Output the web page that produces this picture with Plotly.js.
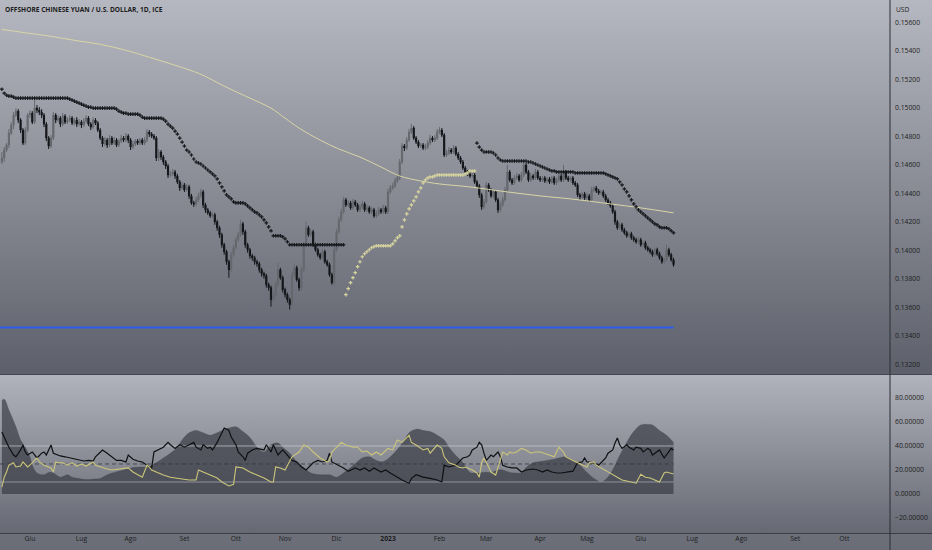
<!DOCTYPE html>
<html><head><meta charset="utf-8">
<script src="https://cdn.plot.ly/plotly-3.0.1.min.js"></script>
<style>
html,body{margin:0;padding:0;background:#6c6f79;}
#chart{width:932px;height:550px;background:linear-gradient(to bottom,#b6b8c1 0px,#5d606a 374px,#454852 374px,#454852 375px,#b1b3bc 375px,#666973 533px,#3b3e47 533px,#3b3e47 534px,#6d7079 534px,#6a6d77 550px);}
</style></head><body><div id="chart"></div>
<script>
// ---- price bars (daily, weekdays from 2022-05-16) ----
const openP = [0.14620,0.14648,0.14704,0.14739,0.14823,0.14879,0.14949,0.14977,0.14914,0.14844,0.14753,0.14844,
0.14949,0.14963,0.14900,0.14998,0.14984,0.14970,0.14949,0.14886,0.14788,0.14732,
0.14788,0.14949,0.14914,0.14928,0.14886,0.14942,0.14900,0.14914,0.14928,0.14893,
0.14914,0.14886,0.14900,0.14879,0.14907,0.14928,0.14886,0.14865,0.14914,0.14893,
0.14844,0.14788,0.14746,0.14774,0.14739,0.14788,0.14753,0.14774,0.14739,0.14767,
0.14788,0.14774,0.14802,0.14774,0.14725,0.14746,0.14767,0.14753,0.14774,0.14753,
0.14774,0.14830,0.14816,0.14802,0.14788,0.14648,0.14690,0.14655,0.14620,0.14592,
0.14529,0.14536,0.14550,0.14522,0.14480,0.14438,0.14459,0.14424,0.14445,0.14382,
0.14333,0.14326,0.14354,0.14382,0.14410,0.14319,0.14284,0.14263,0.14242,0.14249,
0.14200,0.14158,0.14109,0.14039,0.13990,0.13920,0.13864,0.13969,0.14018,0.14074,
0.14109,0.14186,0.14130,0.14039,0.14004,0.13962,0.13948,0.13920,0.13906,0.13864,
0.13836,0.13822,0.13759,0.13738,0.13654,0.13689,0.13759,0.13864,0.13808,0.13724,
0.13689,0.13654,0.13619,0.13829,0.13878,0.13794,0.13738,0.13864,0.14039,0.14158,
0.14109,0.14130,0.14039,0.14004,0.13969,0.13948,0.13990,0.13920,0.13899,0.13829,
0.13773,0.14004,0.14130,0.14214,0.14270,0.14354,0.14319,0.14333,0.14298,0.14340,
0.14319,0.14284,0.14305,0.14326,0.14284,0.14298,0.14270,0.14284,0.14242,0.14256,
0.14284,0.14270,0.14298,0.14270,0.14410,0.14438,0.14452,0.14487,0.14508,0.14620,
0.14732,0.14718,0.14774,0.14830,0.14858,0.14788,0.14760,0.14732,0.14739,0.14718,
0.14725,0.14753,0.14788,0.14774,0.14788,0.14830,0.14844,0.14809,0.14669,0.14683,
0.14704,0.14690,0.14718,0.14676,0.14648,0.14620,0.14578,0.14550,0.14536,0.14522,
0.14529,0.14480,0.14452,0.14389,0.14305,0.14340,0.14459,0.14424,0.14382,0.14410,
0.14354,0.14284,0.14319,0.14354,0.14424,0.14550,0.14494,0.14473,0.14508,0.14522,
0.14494,0.14529,0.14599,0.14550,0.14494,0.14522,0.14508,0.14550,0.14508,0.14494,
0.14508,0.14487,0.14501,0.14480,0.14508,0.14473,0.14494,0.14522,0.14494,0.14550,
0.14508,0.14494,0.14508,0.14473,0.14459,0.14389,0.14375,0.14396,0.14368,0.14382,
0.14354,0.14424,0.14438,0.14417,0.14403,0.14410,0.14382,0.14354,0.14333,0.14312,
0.14270,0.14200,0.14158,0.14179,0.14144,0.14123,0.14102,0.14116,0.14088,0.14074,
0.14060,0.14074,0.14039,0.14053,0.14018,0.14004,0.13990,0.13969,0.14004,0.13976,
0.13948,0.13920,0.13934,0.14004,0.13969,0.13934];
const highP = [0.14690,0.14725,0.14753,0.14851,0.14900,0.14970,0.14998,0.14991,0.14928,0.14858,0.14865,0.14963,
0.14984,0.14977,0.15061,0.15019,0.15005,0.14991,0.14963,0.14900,0.14802,0.14809,
0.14970,0.14963,0.14949,0.14942,0.14963,0.14956,0.14935,0.14949,0.14942,0.14928,
0.14935,0.14921,0.14914,0.14928,0.14949,0.14942,0.14900,0.14935,0.14928,0.14907,
0.14858,0.14802,0.14795,0.14788,0.14809,0.14802,0.14795,0.14788,0.14781,0.14809,
0.14802,0.14823,0.14816,0.14788,0.14767,0.14781,0.14781,0.14788,0.14788,0.14795,
0.14851,0.14844,0.14830,0.14816,0.14802,0.14711,0.14704,0.14669,0.14634,0.14606,
0.14557,0.14571,0.14564,0.14536,0.14494,0.14480,0.14473,0.14466,0.14459,0.14396,
0.14347,0.14375,0.14403,0.14431,0.14424,0.14333,0.14298,0.14277,0.14270,0.14263,
0.14214,0.14172,0.14123,0.14053,0.14004,0.13934,0.13990,0.14039,0.14095,0.14130,
0.14214,0.14200,0.14144,0.14053,0.14018,0.13976,0.13962,0.13934,0.13920,0.13878,
0.13850,0.13836,0.13773,0.13752,0.13710,0.13780,0.13913,0.13878,0.13822,0.13738,
0.13703,0.13668,0.13850,0.13899,0.13892,0.13808,0.13885,0.14060,0.14200,0.14172,
0.14151,0.14144,0.14053,0.14018,0.13983,0.14011,0.14004,0.13934,0.13913,0.13843,
0.14025,0.14151,0.14235,0.14291,0.14375,0.14368,0.14354,0.14347,0.14361,0.14354,
0.14333,0.14326,0.14347,0.14340,0.14319,0.14312,0.14305,0.14298,0.14277,0.14305,
0.14298,0.14319,0.14312,0.14431,0.14459,0.14473,0.14508,0.14529,0.14641,0.14753,
0.14746,0.14795,0.14851,0.14886,0.14872,0.14802,0.14774,0.14753,0.14753,0.14746,
0.14774,0.14809,0.14802,0.14809,0.14851,0.14865,0.14858,0.14823,0.14704,0.14725,
0.14718,0.14739,0.14732,0.14690,0.14662,0.14634,0.14592,0.14564,0.14550,0.14543,
0.14543,0.14494,0.14466,0.14403,0.14361,0.14480,0.14473,0.14438,0.14431,0.14424,
0.14368,0.14340,0.14375,0.14445,0.14599,0.14564,0.14508,0.14529,0.14543,0.14536,
0.14550,0.14634,0.14613,0.14564,0.14543,0.14536,0.14571,0.14564,0.14522,0.14522,
0.14522,0.14515,0.14515,0.14522,0.14522,0.14508,0.14543,0.14536,0.14599,0.14564,
0.14522,0.14522,0.14522,0.14487,0.14473,0.14403,0.14410,0.14410,0.14403,0.14396,
0.14445,0.14452,0.14452,0.14431,0.14424,0.14424,0.14396,0.14368,0.14347,0.14326,
0.14284,0.14214,0.14193,0.14193,0.14158,0.14137,0.14130,0.14130,0.14102,0.14088,
0.14095,0.14088,0.14067,0.14067,0.14032,0.14018,0.14004,0.14018,0.14018,0.13990,
0.13962,0.13948,0.14039,0.14018,0.13983,0.13948];
const lowP = [0.14606,0.14620,0.14690,0.14718,0.14809,0.14851,0.14935,0.14893,0.14823,0.14739,0.14739,0.14830,
0.14928,0.14886,0.14886,0.14963,0.14949,0.14928,0.14865,0.14767,0.14711,0.14718,
0.14774,0.14893,0.14900,0.14865,0.14872,0.14886,0.14886,0.14900,0.14879,0.14879,
0.14865,0.14872,0.14858,0.14865,0.14893,0.14872,0.14844,0.14851,0.14879,0.14830,
0.14774,0.14725,0.14732,0.14718,0.14725,0.14739,0.14739,0.14725,0.14725,0.14753,
0.14760,0.14760,0.14753,0.14704,0.14711,0.14732,0.14739,0.14739,0.14739,0.14739,
0.14760,0.14795,0.14788,0.14774,0.14627,0.14627,0.14634,0.14599,0.14571,0.14508,
0.14515,0.14522,0.14501,0.14466,0.14417,0.14424,0.14410,0.14410,0.14361,0.14319,
0.14305,0.14312,0.14340,0.14368,0.14298,0.14263,0.14249,0.14228,0.14228,0.14179,
0.14137,0.14088,0.14018,0.13969,0.13899,0.13808,0.13850,0.13955,0.14004,0.14060,
0.14095,0.14109,0.14018,0.13983,0.13941,0.13927,0.13899,0.13885,0.13843,0.13815,
0.13801,0.13738,0.13717,0.13605,0.13640,0.13675,0.13745,0.13794,0.13703,0.13668,
0.13633,0.13584,0.13605,0.13815,0.13780,0.13717,0.13724,0.13850,0.14025,0.14095,
0.14095,0.14025,0.13990,0.13955,0.13934,0.13934,0.13906,0.13885,0.13815,0.13759,
0.13759,0.13990,0.14116,0.14200,0.14256,0.14305,0.14305,0.14284,0.14284,0.14305,
0.14270,0.14270,0.14291,0.14270,0.14270,0.14256,0.14256,0.14228,0.14228,0.14242,
0.14256,0.14256,0.14256,0.14256,0.14396,0.14424,0.14438,0.14473,0.14494,0.14606,
0.14697,0.14704,0.14760,0.14816,0.14774,0.14746,0.14718,0.14718,0.14704,0.14704,
0.14711,0.14739,0.14760,0.14760,0.14774,0.14816,0.14795,0.14655,0.14655,0.14669,
0.14676,0.14676,0.14662,0.14634,0.14606,0.14564,0.14536,0.14522,0.14508,0.14508,
0.14466,0.14438,0.14368,0.14284,0.14291,0.14326,0.14410,0.14368,0.14368,0.14340,
0.14263,0.14270,0.14305,0.14340,0.14410,0.14480,0.14459,0.14459,0.14494,0.14480,
0.14480,0.14515,0.14536,0.14480,0.14480,0.14494,0.14494,0.14494,0.14480,0.14480,
0.14473,0.14473,0.14466,0.14466,0.14459,0.14459,0.14480,0.14480,0.14480,0.14494,
0.14480,0.14480,0.14459,0.14445,0.14375,0.14354,0.14361,0.14354,0.14354,0.14340,
0.14340,0.14410,0.14403,0.14389,0.14389,0.14368,0.14340,0.14319,0.14298,0.14256,
0.14179,0.14144,0.14144,0.14130,0.14109,0.14088,0.14088,0.14074,0.14060,0.14046,
0.14046,0.14025,0.14025,0.14004,0.13990,0.13976,0.13955,0.13955,0.13962,0.13934,
0.13906,0.13906,0.13920,0.13955,0.13920,0.13885];
const closeP = [0.14648,0.14704,0.14739,0.14823,0.14879,0.14949,0.14977,0.14914,0.14844,0.14753,0.14844,0.14949,
0.14963,0.14900,0.14998,0.14984,0.14970,0.14949,0.14886,0.14788,0.14732,0.14788,
0.14949,0.14914,0.14928,0.14886,0.14942,0.14900,0.14914,0.14928,0.14893,0.14914,
0.14886,0.14900,0.14879,0.14907,0.14928,0.14886,0.14865,0.14914,0.14893,0.14844,
0.14788,0.14746,0.14774,0.14739,0.14788,0.14753,0.14774,0.14739,0.14767,0.14788,
0.14774,0.14802,0.14774,0.14725,0.14746,0.14767,0.14753,0.14774,0.14753,0.14774,
0.14830,0.14816,0.14802,0.14788,0.14648,0.14690,0.14655,0.14620,0.14592,0.14529,
0.14536,0.14550,0.14522,0.14480,0.14438,0.14459,0.14424,0.14445,0.14382,0.14333,
0.14326,0.14354,0.14382,0.14410,0.14319,0.14284,0.14263,0.14242,0.14249,0.14200,
0.14158,0.14109,0.14039,0.13990,0.13920,0.13864,0.13969,0.14018,0.14074,0.14109,
0.14186,0.14130,0.14039,0.14004,0.13962,0.13948,0.13920,0.13906,0.13864,0.13836,
0.13822,0.13759,0.13738,0.13654,0.13689,0.13759,0.13864,0.13808,0.13724,0.13689,
0.13654,0.13619,0.13829,0.13878,0.13794,0.13738,0.13864,0.14039,0.14158,0.14109,
0.14130,0.14039,0.14004,0.13969,0.13948,0.13990,0.13920,0.13899,0.13829,0.13773,
0.14004,0.14130,0.14214,0.14270,0.14354,0.14319,0.14333,0.14298,0.14340,0.14319,
0.14284,0.14305,0.14326,0.14284,0.14298,0.14270,0.14284,0.14242,0.14256,0.14284,
0.14270,0.14298,0.14270,0.14410,0.14438,0.14452,0.14487,0.14508,0.14620,0.14732,
0.14718,0.14774,0.14830,0.14858,0.14788,0.14760,0.14732,0.14739,0.14718,0.14725,
0.14753,0.14788,0.14774,0.14788,0.14830,0.14844,0.14809,0.14669,0.14683,0.14704,
0.14690,0.14718,0.14676,0.14648,0.14620,0.14578,0.14550,0.14536,0.14522,0.14529,
0.14480,0.14452,0.14389,0.14305,0.14340,0.14459,0.14424,0.14382,0.14410,0.14354,
0.14284,0.14319,0.14354,0.14424,0.14550,0.14494,0.14473,0.14508,0.14522,0.14494,
0.14529,0.14599,0.14550,0.14494,0.14522,0.14508,0.14550,0.14508,0.14494,0.14508,
0.14487,0.14501,0.14480,0.14508,0.14473,0.14494,0.14522,0.14494,0.14550,0.14508,
0.14494,0.14508,0.14473,0.14459,0.14389,0.14375,0.14396,0.14368,0.14382,0.14354,
0.14424,0.14438,0.14417,0.14403,0.14410,0.14382,0.14354,0.14333,0.14312,0.14270,
0.14200,0.14158,0.14179,0.14144,0.14123,0.14102,0.14116,0.14088,0.14074,0.14060,
0.14074,0.14039,0.14053,0.14018,0.14004,0.13990,0.13969,0.14004,0.13976,0.13948,
0.13920,0.13934,0.14004,0.13969,0.13934,0.13899];

// ---- trailing stop dots (bar number = position in the price arrays) ----
const stopUpperAStart = 0;
const stopUpperA = [0.15131,0.15103,0.15089,0.15082,0.15082,0.15075,0.15068,
0.15068,0.15068,0.15068,0.15068,0.15068,0.15068,0.15068,0.15068,0.15068,0.15068,0.15068,
0.15068,0.15068,0.15068,0.15068,0.15068,0.15068,0.15068,0.15068,0.15068,0.15068,0.15068,
0.15061,0.15054,0.15047,0.15040,0.15033,0.15026,0.15019,0.15012,0.15005,0.15005,
0.14998,0.14998,0.14998,0.14998,0.14998,0.14998,0.14998,0.14998,0.14998,0.14998,
0.14991,0.14977,0.14970,0.14963,0.14963,
0.14956,0.14956,0.14956,0.14956,0.14956,
0.14949,0.14935,
0.14928,0.14928,0.14928,0.14928,0.14928,0.14928,0.14928,0.14928,
0.14921,0.14907,0.14886,0.14872,0.14858,0.14837,0.14816,0.14788,0.14760,0.14732,
0.14704,0.14690,0.14669,0.14641,0.14620,0.14613,0.14606,0.14592,0.14578,0.14564,
0.14550,0.14536,0.14522,0.14501,0.14473,0.14445,0.14417,0.14389,0.14375,0.14361,0.14340,
0.14333,0.14333,0.14333,0.14333,
0.14326,0.14312,0.14298,0.14284,0.14270,0.14263,0.14249,0.14235,0.14214,0.14193,0.14165,0.14137,
0.14102,0.14102,0.14102,0.14102,
0.14095,0.14081,0.14060,0.14039,
0.14039,0.14039,0.14039,0.14039,0.14039,0.14039,0.14039,0.14039,0.14039,0.14039,0.14039,0.14039,
0.14039,0.14039,0.14039,0.14039,0.14039,0.14039,0.14039,0.14039,0.14039,0.14039,0.14039];
const stopLowerStart = 147;
const stopLower = [0.13689,0.13731,0.13773,0.13808,0.13843,0.13885,0.13920,0.13955,0.13976,0.13990,0.14004,0.14018,0.14025,
0.14032,0.14032,0.14032,0.14032,0.14032,0.14032,0.14032,
0.14046,0.14067,0.14088,0.14102,0.14165,0.14214,0.14256,0.14291,0.14319,0.14347,0.14375,0.14410,0.14438,0.14473,0.14494,0.14508,0.14515,0.14515,0.14522,
0.14529,0.14529,0.14529,0.14529,0.14529,0.14529,0.14529,0.14529,0.14529,0.14529,0.14529,0.14529,
0.14536,0.14543,0.14557,0.14557,0.14557];
const stopUpperBStart = 203;
const stopUpperB = [0.14753,0.14725,0.14704,
0.14690,0.14690,0.14690,0.14690,
0.14683,0.14669,0.14648,0.14634,
0.14627,0.14627,0.14627,0.14627,0.14627,0.14627,0.14627,0.14627,0.14627,0.14627,0.14627,
0.14620,0.14620,0.14613,0.14606,0.14599,0.14592,0.14585,0.14578,0.14571,0.14564,0.14557,0.14557,
0.14550,0.14550,0.14550,0.14550,0.14550,0.14550,0.14550,0.14550,
0.14543,0.14543,0.14543,0.14543,0.14543,0.14543,0.14543,0.14543,0.14543,0.14543,0.14543,0.14543,0.14543,
0.14536,0.14529,0.14522,0.14515,0.14508,0.14501,0.14480,0.14459,0.14431,0.14410,0.14382,0.14354,0.14326,0.14305,0.14284,
0.14270,0.14256,0.14242,0.14228,0.14214,0.14200,0.14186,0.14179,0.14165,0.14158,0.14158,0.14158,0.14151,0.14137,0.14123];

// ---- long moving average (sampled; bar offsets relative to 2022-06-01) ----
const smaBar = [-12,-2,9,19,30,41,51,62,73,83,94,103,109,115,124,132,141,150,158,167,175,188,204,218,231,248,261,275];
const smaVal = [0.15551,0.15527,0.15502,0.15474,0.15446,0.15404,0.15355,0.15299,0.15236,0.15152,0.15068,0.14998,0.14928,0.14858,0.14774,0.14711,0.14655,0.14585,0.14522,0.14487,0.14466,0.14445,0.14410,0.14382,0.14361,0.14326,0.14298,0.14263];

const supportLevel = 0.13458;

// ---- lower pane (bar offsets relative to 2022-06-01) ----
const adxBar = [-12,-11,-9,-6,-4,-2,0,1,3,6,8,10,13,16,18,21,24,27,30,33,36,40,44,48,51,54,57,60,63,65,68,71,74,77,80,82,85,88,91,94,97,100,103,106,108,111,114,117,120,124,128,131,134,137,140,142,145,148,151,154,157,160,162,165,168,171,174,177,179,182,185,188,191,194,197,200,202,205,208,210,212,215,218,221,224,226,229,232,235,238,241,244,246,249,252,255,258,261,264,266,269,272,275];
const adxVal = [78,79,70,56,45,39,31,24,17.5,16,18,17.5,14,16,14,13,12,12.5,13,16,18,20,22,22.5,23,26,30,34,39,45,51,53,51,49,51,53,55,56,52,47,39,35,41,42.5,39,34,27,22,17.5,16,16,14,17.5,22,27,30,31,28,27,31,37,45,51,54,53,52,49,45,39,32,26,18,17.5,18,18,20,20,18,17.5,17.5,22,26,27,28,29,30,31,28,24,18,13,10,12,20,32,43,52,57.5,58,57.5,53,49,43];
const blackBar = [-12,-11,-9,-7,-6,-4,-3,-2,-1,1, 2,3,5,6,7,9,10,12,13,15, 17,19,21,23,25,27,28,30,31,33, 35,37,39,41,42,44,46,48,50,52, 53,55,57,59,60,62,64,66,68,70, 71,73,74,76,77,78,80,82,83,85, 86,88,89,91,92,93,95,97,100,101, 103,104,106,108,110,112,114,116,118,121, 123,125,127,128,129,132,134,136,139,141, 143,145,147,150,152,154,157,159,162,163, 165,168,171,174,176,177,179,182,184,185, 187,188,189,191,192,193,194,195,197,198, 200,201,202,204,206,208,210,212,215,217, 219,221,223,225,227,229,232,233,234,236, 237,238,241,243,244,246,247,249,250,251, 252,253,255,256,258,259,261,262,264,265, 266,268,269,271,272,274,275];
const blackVal = [51.7,47.5,39,32.5,31,36.7,40.8,35,32.5,35, 32.5,30,34,35,32.5,40.8,34,32.5,31.7,31, 30,29,28,27.5,28,27.5,31,35,36.7,34, 31,28,28,26.7,32.5,29,27.5,26.7,24,21.7, 35,36.7,39,43,41,38,41,39,41,43, 39,36.7,41,38,39,36.7,43,51,55,53, 47.5,41,35,31,28,34,36.7,38,36.7,41, 35,41,32.5,36.7,32.5,28,26.7,22.5,20,26, 28,26.7,28,34,26.7,24,21.7,19,21.7,20, 21.7,19,21.7,18.3,20,17.5,14,11.7,9,13, 16,14,13,11.7,10,24,22.5,24,28,30, 31,32.5,36.7,39,43,41,34,28,32.5,31, 35,31,24,22.5,21.7,21.7,18.3,20,20.8,20, 18.3,20,18.3,17.5,17.5,18.3,19,22.5,26,26.7, 30,26.7,26,24,26,30,34,36.7,42.5,46.7, 41,38,41,39,36.7,39,38,35,38,36.7, 32.5,35,36.7,30,32.5,38,36.7];
const yellowBar = [-12,-11,-10,-9,-7,-6,-4,-3,-1,0, 1,3,4,6,9,10,11,12,14,16, 18,20,22,24,27,28,30,33,35,38, 40,42,44,46,48,50,51,52,54,57, 60,63,65,68,71,72,74,77,80,82, 85,87,88,91,94,97,100,103,104,105, 107,109,111,112,115,117,119,121,124,127, 128,129,132,133,135,138,140,142,144,146, 148,150,153,155,156,157,159,160,162,163, 165,168,170,171,173,174,176,177,179,182, 183,185,186,187,189,191,192,193,194,196, 197,199,200,201,202,204,205,206,208,210, 212,214,216,218,220,222,224,226,228,229, 232,234,236,238,239,241,242,244,247,249, 251,253,255,257,259,261,263,265,267,269, 271,272,275];
const yellowVal = [5.8,14,18.3,24,26,22.5,23.3,26.7,22.5,24, 26,30,26.7,24,21.7,18.3,26.7,26,26,24, 26,23.3,25,23.3,26.7,24,22.5,20.8,20,20.8, 21.7,21.7,18.3,15.8,14,24,22.5,20,18.3,15.8, 14,13.3,12.5,11.7,11.7,20,18.3,15.8,13.3,10, 6.7,8,22.5,21.7,18.3,15.8,13.3,10,10,22.5, 21.7,20,28,31,35,40.8,39,35,30,26.7, 28,35,40.8,43,40.8,39,39,35,35.8,32.5, 35,32.5,38,36.7,40.8,45,43,45,49,43, 40.8,36.7,38,34,39,40.8,38,31,26,24, 22.5,21.7,22.5,21.7,20,17.5,14,26,30,22.5, 18.3,15.8,21.7,28,35,32.5,35,34,35,38, 36.7,34,35,35,34,32.5,31,39,35,31, 28,26,24,22.5,26,26.7,24,21.7,18.3,15.8, 13.3,11.7,10.8,10,9,16.5,14,13.3,11.7,10, 17.5,18.3,16.7];
const levelUpper = 40, levelMid = 25, levelLower = 10;

// ---- axis labels ----
const monthTicks = ['2022-06-01','2022-07-01','2022-08-01','2022-09-01','2022-10-03','2022-11-01','2022-12-01','2023-01-02','2023-02-01','2023-03-01','2023-04-03','2023-05-01','2023-06-01','2023-07-03','2023-08-01','2023-09-01','2023-10-02'];
const monthText = ['Giu','Lug','Ago','Set','Ott','Nov','Dic','<b>2023</b>','Feb','Mar','Apr','Mag','Giu','Lug','Ago','Set','Ott'];
const xRange = ['2022-05-13 04:48','2023-10-27 12:00'];

// trading-day calendar (weekdays) for the bars
function tradingDays(start, n){
  const out=[]; const d=new Date(start+'T00:00:00Z');
  while(out.length<n){ const wd=d.getUTCDay(); if(wd!==0&&wd!==6) out.push(d.toISOString().slice(0,10)); d.setUTCDate(d.getUTCDate()+1); }
  return out;
}
const dates = tradingDays('2022-05-16', closeP.length);
const OFF = 12; // position of 2022-06-01
const dx = arr => arr.map(i => dates[i+OFF]);
const seg = (start, vals) => vals.map((v,k)=>dates[start+k]);
const lastDate = dates[dates.length-1];

const FONT = 'Open Sans, Noto Sans, sans-serif';
const traces = [
  {type:'candlestick', x:dates, open:openP, high:highP, low:lowP, close:closeP, xaxis:'x', yaxis:'y',
   increasing:{line:{color:'#66686e',width:1}, fillcolor:'#66686e'},
   decreasing:{line:{color:'#141519',width:1}, fillcolor:'#141519'},
   whiskerwidth:0, hoverinfo:'skip'},
  {type:'scatter', mode:'lines', x:dx(smaBar), y:smaVal, yaxis:'y',
   line:{color:'#d9d6a6', width:1, shape:'spline'}, hoverinfo:'skip'},
  {type:'scatter', mode:'lines', x:[xRange[0], lastDate], y:[supportLevel, supportLevel], yaxis:'y',
   line:{color:'#2b5cec', width:2}, hoverinfo:'skip'},
  {type:'scatter', mode:'markers', x:seg(stopUpperAStart, stopUpperA), y:stopUpperA, yaxis:'y',
   marker:{symbol:'cross', size:3, color:'#17181c', line:{width:0}}, hoverinfo:'skip'},
  {type:'scatter', mode:'markers', x:seg(stopLowerStart, stopLower), y:stopLower, yaxis:'y',
   marker:{symbol:'cross', size:3, color:'#d6d39e', line:{width:0}}, hoverinfo:'skip'},
  {type:'scatter', mode:'markers', x:seg(stopUpperBStart, stopUpperB), y:stopUpperB, yaxis:'y',
   marker:{symbol:'cross', size:3, color:'#17181c', line:{width:0}}, hoverinfo:'skip'},
  // lower pane
  {type:'scatter', mode:'lines', x:dx(adxBar), y:adxVal, yaxis:'y2', fill:'tozeroy',
   fillcolor:'rgba(55,57,67,0.68)', line:{color:'rgba(55,57,67,0.5)', width:0.5, shape:'spline'}, hoverinfo:'skip'},
  {type:'scatter', mode:'lines', x:[xRange[0], lastDate], y:[levelUpper, levelUpper], yaxis:'y2',
   line:{color:'rgba(200,202,210,0.7)', width:1}, hoverinfo:'skip'},
  {type:'scatter', mode:'lines', x:[xRange[0], lastDate], y:[levelMid, levelMid], yaxis:'y2',
   line:{color:'rgba(55,57,65,0.8)', width:1, dash:'4px,3px'}, hoverinfo:'skip'},
  {type:'scatter', mode:'lines', x:[xRange[0], lastDate], y:[levelLower, levelLower], yaxis:'y2',
   line:{color:'rgba(200,202,210,0.55)', width:1}, hoverinfo:'skip'},
  {type:'scatter', mode:'lines', x:dx(blackBar), y:blackVal, yaxis:'y2',
   line:{color:'#0f1013', width:1.2}, hoverinfo:'skip'},
  {type:'scatter', mode:'lines', x:dx(yellowBar), y:yellowVal, yaxis:'y2',
   line:{color:'#cbc67a', width:1.1}, hoverinfo:'skip'}
];

const tickFont = {family:FONT, size:6.8, color:'#1c1d22'};
const layout = {
  width:932, height:550, margin:{l:0, r:42, t:0, b:17},
  paper_bgcolor:'rgba(0,0,0,0)', plot_bgcolor:'rgba(0,0,0,0)',
  showlegend:false, hovermode:false, dragmode:false,
  xaxis:{type:'date', range:xRange, rangebreaks:[{bounds:['sat','mon']}], anchor:'y2',
    tickmode:'array', tickvals:monthTicks, ticktext:monthText, tickfont:tickFont,
    showgrid:false, zeroline:false, showline:false, ticks:'', rangeslider:{visible:false}, fixedrange:true},
  yaxis:{domain:[0.2983,1], range:[0.13132,0.15757], side:'right', anchor:'x',
    tickmode:'linear', tick0:0.132, dtick:0.002, tickformat:'.5f', tickfont:tickFont,
    showgrid:false, zeroline:false, showline:false, ticks:'', ticklabelstandoff:4, fixedrange:true},
  yaxis2:{domain:[0,0.2946], range:[-32.5,98.33], side:'right', anchor:'x',
    tickmode:'linear', tick0:-20, dtick:20, tickformat:'.5f', tickfont:tickFont,
    showgrid:false, zeroline:false, showline:false, ticks:'', ticklabelstandoff:4, fixedrange:true},
  shapes:[
    {type:'line', xref:'paper', yref:'paper', x0:1, x1:1, y0:-0.033, y1:1, line:{color:'#2c2e36', width:1}}
  ],
  annotations:[
    {xref:'paper', yref:'paper', x:0, y:1, xanchor:'left', yanchor:'top', xshift:3, yshift:-3, showarrow:false,
     text:'<b>OFFSHORE CHINESE YUAN / U.S. DOLLAR, 1D, ICE</b>', font:{family:FONT, size:6.6, color:'#1c1d22'}},
    {xref:'paper', yref:'paper', x:1, y:1, xanchor:'left', yanchor:'top', xshift:4, yshift:-3, showarrow:false,
     text:'USD', font:{family:FONT, size:6.6, color:'#1c1d22'}}
  ]
};
Plotly.newPlot('chart', traces, layout, {staticPlot:true, displayModeBar:false});
</script></body></html>
